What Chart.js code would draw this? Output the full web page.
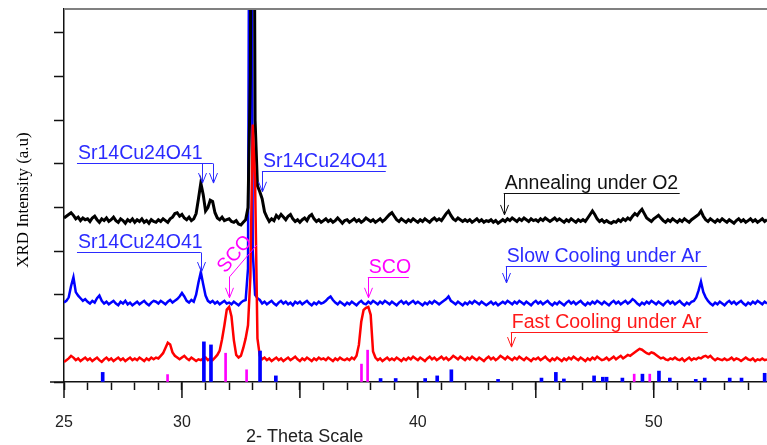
<!DOCTYPE html>
<html>
<head>
<meta charset="utf-8">
<script src="https://cdn.jsdelivr.net/npm/chart.js@4.4.1/dist/chart.umd.min.js"></script>
<style>
  html, body { margin: 0; padding: 0; background: #fff; }
  canvas { display: block; }
</style>
</head>
<body>
<canvas id="xrdChart" width="767" height="445"></canvas>
<script>
// scan grid: 25.0 to 54.8 deg 2-theta, 0.1 deg per step (offset-stacked intensities)
const scanStart = 25.0;
const scanStep = 0.1;

const annealedO2 = [
  376, 380, 384, 388, 382, 374, 378, 370, 376, 372,
  374, 368, 376, 380, 372, 366, 374, 370, 376, 368,
  372, 378, 370, 366, 374, 370, 364, 372, 368, 374,
  366, 372, 368, 374, 366, 370, 364, 372, 368, 366,
  372, 368, 374, 370, 366, 374, 378, 386, 388, 380,
  384, 376, 372, 378, 370, 374, 386, 420, 456, 430,
  392, 400, 417, 414, 388, 376, 372, 378, 370, 372,
  374, 368, 366, 370, 362, 360, 366, 372, 400, 700,
  2000, 600, 450, 436, 420, 390, 378, 368, 374, 370,
  382, 376, 384, 378, 372, 380, 384, 374, 368, 372,
  366, 372, 376, 370, 380, 384, 374, 368, 372, 366,
  370, 374, 368, 372, 366, 370, 376, 370, 364, 370,
  372, 366, 370, 374, 368, 372, 366, 370, 376, 372,
  368, 372, 366, 370, 374, 368, 372, 378, 384, 388,
  380, 372, 368, 374, 370, 366, 372, 368, 374, 370,
  366, 372, 368, 374, 370, 366, 372, 376, 370, 374,
  370, 378, 386, 392, 382, 374, 370, 376, 372, 368,
  372, 368, 372, 366, 370, 374, 368, 372, 366, 370,
  368, 372, 366, 370, 364, 368, 372, 368, 374, 370,
  376, 372, 368, 374, 370, 376, 372, 368, 374, 370,
  372, 368, 374, 370, 376, 372, 368, 372, 376, 370,
  374, 370, 366, 372, 368, 374, 370, 366, 372, 368,
  372, 368, 376, 384, 392, 384, 374, 368, 372, 366,
  370, 366, 364, 368, 366, 372, 368, 374, 370, 376,
  372, 380, 386, 382, 390, 396, 386, 376, 372, 368,
  374, 378, 382, 376, 370, 366, 372, 368, 374, 370,
  366, 372, 368, 374, 370, 366, 372, 376, 380, 384,
  392, 380, 372, 368, 374, 370, 366, 372, 368, 374,
  370, 366, 372, 368, 364, 370, 374, 368, 372, 366,
  370, 374, 368, 372, 366, 370, 374, 368, 372
];

const slowCooledAr = [
  182, 186, 194, 220, 240, 206, 198, 192, 186, 190,
  184, 180, 186, 182, 192, 198, 186, 180, 184, 178,
  182, 186, 180, 176, 184, 180, 186, 178, 182, 176,
  180, 184, 178, 182, 186, 180, 176, 182, 186, 184,
  180, 186, 182, 178, 184, 188, 182, 186, 190, 196,
  204, 196, 186, 182, 188, 184, 200, 228, 252, 224,
  198, 186, 182, 186, 180, 184, 178, 182, 186, 180,
  182, 178, 184, 180, 176, 182, 186, 188, 260, 2000,
  300, 200, 192, 188, 180, 184, 178, 182, 186, 180,
  176, 182, 186, 180, 184, 178, 182, 176, 184, 180,
  184, 178, 182, 186, 180, 176, 182, 178, 184, 180,
  182, 186, 192, 196, 188, 182, 178, 184, 180, 176,
  182, 178, 184, 180, 176, 182, 186, 180, 178, 184,
  180, 186, 182, 178, 184, 180, 186, 182, 178, 184,
  180, 176, 182, 186, 180, 184, 178, 182, 186, 180,
  184, 180, 176, 182, 178, 184, 180, 186, 182, 178,
  182, 186, 190, 196, 186, 182, 178, 184, 180, 176,
  182, 178, 184, 180, 186, 182, 178, 184, 180, 176,
  180, 184, 178, 182, 176, 180, 184, 180, 186, 182,
  178, 184, 180, 186, 182, 178, 184, 180, 176, 182,
  186, 180, 184, 178, 182, 186, 180, 176, 182, 178,
  184, 180, 176, 182, 186, 180, 184, 178, 182, 186,
  180, 176, 182, 178, 184, 180, 186, 182, 178, 184,
  180, 176, 182, 186, 180, 184, 178, 182, 186, 180,
  184, 190, 186, 180, 176, 182, 178, 184, 180, 186,
  182, 178, 184, 180, 176, 182, 186, 180, 184, 178,
  182, 186, 180, 176, 182, 178, 184, 186, 194, 210,
  230, 206, 194, 186, 180, 176, 182, 178, 184, 180,
  176, 182, 186, 180, 184, 178, 182, 186, 180, 176,
  182, 178, 184, 180, 186, 182, 178, 184, 180
];

const fastCooledAr = [
  46, 50, 54, 60, 56, 50, 54, 48, 52, 56,
  50, 54, 48, 52, 56, 50, 46, 52, 56, 50,
  54, 48, 52, 56, 50, 54, 48, 52, 56, 50,
  54, 50, 56, 52, 48, 54, 50, 56, 52, 56,
  54, 60, 66, 78, 90, 86, 68, 60, 56, 52,
  56, 60, 54, 50, 56, 52, 48, 52, 50, 54,
  56, 50, 54, 50, 56, 62, 72, 98, 130, 166,
  172, 150, 96, 62, 56, 60, 78, 100, 130, 240,
  590, 460, 100, 60, 52, 56, 50, 54, 48, 52,
  56, 50, 54, 48, 52, 56, 50, 54, 58, 52,
  48, 54, 50, 56, 52, 48, 54, 50, 56, 52,
  54, 50, 56, 52, 48, 54, 50, 56, 52, 50,
  54, 50, 56, 52, 60, 85, 138, 165, 170, 172,
  154, 70, 56, 50, 54, 48, 52, 56, 50, 54,
  50, 56, 52, 48, 54, 50, 56, 52, 58, 54,
  50, 56, 52, 48, 54, 58, 52, 56, 50, 54,
  58, 52, 56, 50, 54, 60, 56, 52, 58, 54,
  50, 56, 52, 58, 54, 50, 56, 52, 48, 54,
  58, 52, 56, 50, 54, 60, 56, 52, 58, 54,
  50, 56, 52, 58, 54, 50, 56, 52, 48, 54,
  52, 56, 50, 54, 58, 52, 48, 54, 50, 56,
  52, 48, 54, 50, 56, 52, 58, 54, 50, 56,
  52, 48, 54, 50, 56, 52, 58, 54, 50, 52,
  56, 50, 54, 58, 52, 56, 60, 54, 58, 62,
  60, 64, 68, 72, 76, 74, 70, 66, 64, 68,
  66, 62, 58, 54, 56, 52, 50, 54, 52, 56,
  52, 50, 54, 48, 52, 56, 50, 54, 52, 56,
  54, 58, 60, 56, 60, 54, 50, 54, 52, 50,
  54, 50, 52, 56, 50, 54, 52, 48, 52, 56,
  52, 50, 54, 48, 52, 50, 54, 50, 52
];

// reference stick patterns
const sr14Angles = [26.64, 30.93, 31.23, 33.31, 33.98, 38.42, 39.06, 40.31, 40.82, 41.42,
  43.40, 45.24, 45.85, 46.19, 47.47, 47.84, 48.00, 48.67, 49.52, 50.22,
  50.68, 51.78, 52.16, 53.22, 53.72, 54.70];
const sr14Heights = [22, 92, 85, 71, 14, 8, 8, 8, 14, 28,
  6, 9, 22, 7, 14, 11, 11, 9, 18, 25,
  9, 6, 9, 9, 9, 20];
const scoAngles = [29.39, 31.85, 32.74, 37.61, 37.87, 49.17, 49.83];
const scoHeights = [17, 66, 28, 41, 73, 18, 18];

const xLabelValues = [25, 30, 40, 50];

const toPoints = arr => arr.map((v, i) => ({ x: +(scanStart + i * scanStep).toFixed(1), y: v }));
const toSticks = (angles, heights) => angles.map((a, i) => ({ x: a, y: heights[i] }));

const BLUE = '#0000ff';
const TEXT_BLUE = '#2b2bff';
const MAGENTA = '#ff00ff';
const RED = '#ff0000';

const callouts = [
  { text: 'Sr14Cu24O41', color: TEXT_BLUE, from: 25.55, to: 31.31, line: 502, tip: 456, arrows: [30.85, 31.31] },
  { text: 'Sr14Cu24O41', color: TEXT_BLUE, from: 33.39, to: 38.64, line: 484, tip: 436, arrows: [33.39] },
  { text: 'Sr14Cu24O41', color: TEXT_BLUE, from: 25.55, to: 30.8, line: 298, tip: 252, arrows: [30.8] },
  { text: 'SCO', color: MAGENTA, from: 37.88, to: 39.62, line: 241, tip: 193, arrows: [37.88] },
  { text: 'Annealing under O2', color: '#111', from: 43.64, to: 51.1, line: 434, tip: 383, arrows: [43.64] },
  { text: 'Slow Cooling under Ar', color: TEXT_BLUE, from: 43.73, to: 52.25, line: 266, tip: 227, arrows: [43.73] },
  { text: 'Fast Cooling under Ar', color: '#ff1a1a', from: 43.94, to: 52.29, line: 115, tip: 80, arrows: [43.94] }
];
// slanted SCO label pointing at the 32 deg peak
const slantedSco = { text: 'SCO', color: MAGENTA, start: [32.0, 241], end: [33.17, 314], tip: 193 };

const LABEL_FONT = '19.5px "Liberation Sans", Arial, sans-serif';

const crisp = v => Math.round(v) + 0.5;

function arrowHead(ctx, px, ty) {
  ctx.moveTo(px - 4, ty - 10);
  ctx.lineTo(px, ty);
  ctx.lineTo(px + 4, ty - 10);
}

const xrdDecor = {
  id: 'xrdDecor',
  afterDraw(chart) {
    const { ctx, chartArea: a, scales: { x, y } } = chart;
    ctx.save();

    // grey frame line along the top
    ctx.strokeStyle = '#808080';
    ctx.lineWidth = 2;
    ctx.beginPath();
    ctx.moveTo(a.left, a.top);
    ctx.lineTo(a.right, a.top);
    ctx.stroke();

    // x axis runs a little past the y axis; longer ticks every 5 deg
    ctx.strokeStyle = '#111';
    ctx.lineWidth = 1.5;
    ctx.beginPath();
    ctx.moveTo(50, a.bottom);
    ctx.lineTo(a.left, a.bottom);
    for (let v = 25; v <= x.max; v += 5) {
      const px = x.getPixelForValue(v);
      ctx.moveTo(px, a.bottom);
      ctx.lineTo(px, a.bottom + 16);
    }
    ctx.stroke();

    // axis titles
    ctx.fillStyle = '#222';
    ctx.font = '18px "Liberation Sans", Arial, sans-serif';
    ctx.textAlign = 'center';
    ctx.textBaseline = 'alphabetic';
    ctx.fillText('2- Theta Scale', x.getPixelForValue(35.2), 442);

    ctx.save();
    ctx.fillStyle = '#000';
    ctx.font = '17px "Liberation Serif", "Times New Roman", serif';
    ctx.textBaseline = 'middle';
    ctx.translate(24, 200);
    ctx.rotate(-Math.PI / 2);
    ctx.fillText('XRD Intensity (a.u)', 0, 0);
    ctx.restore();

    // callouts: label, underline, arrows down to the peaks
    ctx.font = LABEL_FONT;
    ctx.textAlign = 'left';
    ctx.lineWidth = 1;
    callouts.forEach(c => {
      const x0 = x.getPixelForValue(c.from);
      const x1 = x.getPixelForValue(c.to);
      const yl = crisp(y.getPixelForValue(c.line));
      const yt = y.getPixelForValue(c.tip);
      ctx.strokeStyle = c.color;
      ctx.fillStyle = c.color;
      ctx.beginPath();
      ctx.moveTo(x0, yl);
      ctx.lineTo(x1, yl);
      c.arrows.forEach(v => {
        const px = crisp(x.getPixelForValue(v));
        ctx.moveTo(px, yl);
        ctx.lineTo(px, yt);
        arrowHead(ctx, px, yt);
      });
      ctx.stroke();
      ctx.fillText(c.text, x0 + 1, yl - 5);
    });

    // slanted label
    const s = slantedSco;
    const sx = x.getPixelForValue(s.start[0]), sy = y.getPixelForValue(s.start[1]);
    const ex = x.getPixelForValue(s.end[0]), ey = y.getPixelForValue(s.end[1]);
    const ty = y.getPixelForValue(s.tip);
    ctx.strokeStyle = s.color;
    ctx.fillStyle = s.color;
    ctx.beginPath();
    ctx.moveTo(ex, ey);
    ctx.lineTo(crisp(sx), sy);
    ctx.lineTo(crisp(sx), ty);
    arrowHead(ctx, crisp(sx), ty);
    ctx.stroke();
    ctx.translate((sx + ex) / 2, (sy + ey) / 2);
    ctx.rotate(Math.atan2(ey - sy, ex - sx));
    ctx.textAlign = 'center';
    ctx.fillText(s.text, 0, -5);

    ctx.restore();
  }
};

const ctx = document.getElementById('xrdChart').getContext('2d');
const xrdChart = new Chart(ctx, {
  data: {
    datasets: [
      {
        type: 'bar',
        label: 'Sr14Cu24O41 pattern',
        data: toSticks(sr14Angles, sr14Heights),
        backgroundColor: BLUE,
        barThickness: 3,
        grouped: false,
        order: 0
      },
      {
        type: 'bar',
        label: 'SCO pattern',
        data: toSticks(scoAngles, scoHeights),
        backgroundColor: MAGENTA,
        barThickness: 2,
        grouped: false,
        order: 0
      },
      {
        type: 'line',
        label: 'Fast Cooling under Ar',
        data: toPoints(fastCooledAr),
        borderColor: RED,
        borderWidth: 2.5,
        pointRadius: 0,
        tension: 0,
        order: 1
      },
      {
        type: 'line',
        label: 'Annealing under O2',
        data: toPoints(annealedO2),
        borderColor: '#000',
        borderWidth: 3,
        pointRadius: 0,
        tension: 0,
        order: 2
      },
      {
        type: 'line',
        label: 'Slow Cooling under Ar',
        data: toPoints(slowCooledAr),
        borderColor: BLUE,
        borderWidth: 2.5,
        pointRadius: 0,
        tension: 0,
        order: 3
      }
    ]
  },
  options: {
    responsive: false,
    animation: false,
    layout: { padding: { top: 9, right: 0, bottom: 0, left: 0 } },
    plugins: {
      legend: { display: false },
      tooltip: { enabled: false }
    },
    scales: {
      x: {
        type: 'linear',
        min: 25,
        max: 54.8,
        offset: false,
        afterFit: scale => {
          scale.height = 63;
          scale.paddingRight = 0;
        },
        border: { display: true, color: '#111', width: 1.5 },
        grid: { drawOnChartArea: false, offset: false, tickLength: 8, tickColor: '#111', tickWidth: 1.5 },
        ticks: {
          stepSize: 1,
          includeBounds: false,
          autoSkip: false,
          maxRotation: 0,
          padding: 23,
          color: '#222',
          font: { family: '"Liberation Sans", Arial, sans-serif', size: 16 },
          callback: v => xLabelValues.includes(v) ? String(v) : ''
        }
      },
      y: {
        min: 0,
        max: 855,
        afterFit: scale => { scale.width = 64; },
        border: { display: true, color: '#111', width: 1.5 },
        grid: { drawOnChartArea: false, tickLength: 10, tickColor: '#111', tickWidth: 1.5 },
        ticks: { stepSize: 100, includeBounds: false, display: false }
      }
    }
  },
  plugins: [xrdDecor]
});
</script>
</body>
</html>
